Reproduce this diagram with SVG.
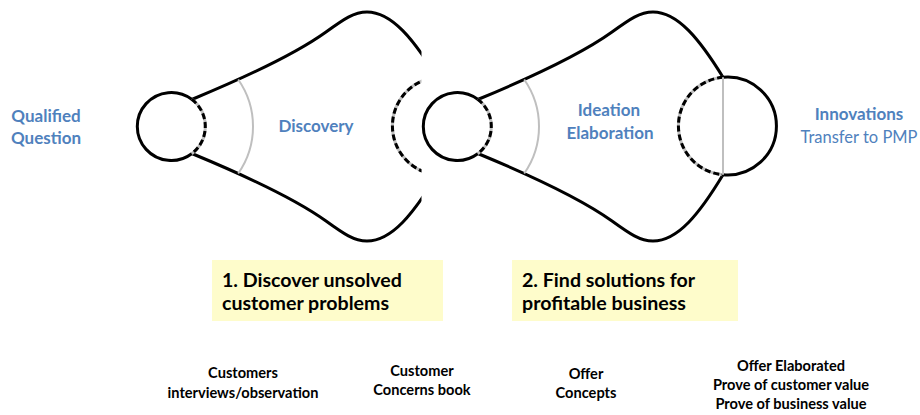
<svg xmlns="http://www.w3.org/2000/svg" width="920" height="415" viewBox="0 0 920 415">
<style>
.ln{fill:none;stroke:#000;stroke-width:3;stroke-linecap:round}
.gl{fill:none;stroke:#bfbfbf;stroke-width:2}
.dg{fill:none;stroke:#bfbfbf;stroke-width:3}
.dk{fill:none;stroke:#000;stroke-width:3;stroke-dasharray:6 3}
.bl{font-family:Lato,"Liberation Sans",sans-serif;fill:#4f81bd;font-weight:bold;font-size:17px}
.blr{font-family:Lato,"Liberation Sans",sans-serif;fill:#4f81bd;font-size:16.5px}
.bx{fill:#fefccb}
.bt{font-family:Lato,"Liberation Sans",sans-serif;font-weight:bold;font-size:19.6px;fill:#000}
.st{font-family:Lato,"Liberation Sans",sans-serif;font-weight:bold;font-size:14.6px;fill:#000;text-anchor:middle}
</style>
<defs>
<clipPath id="c1"><rect x="0" y="0" width="421.5" height="415"/></clipPath>
<g id="funnel">
<path class="ln" d="M479,99 C520,82 580,55 612,32 C630,19 640,12 653,12 C678,12 700,40 723,77.2"/>
<path class="ln" d="M479,154 C520,171 580,198 612,221 C630,234 640,241 653,241 C678,241 700,213 723,174.8"/>
<path class="ln" d="M477.7,99.3 A34,34 0 1,0 477.7,153.7"/>
<path class="dg" d="M477.7,99.3 A34,34 0 0,1 477.7,153.7"/>
<path class="dk" d="M477.7,99.3 A34,34 0 0,1 477.7,153.7"/>
<path class="gl" d="M524.2,79.5 A82,82 0 0,1 524.2,173.5"/>
<path class="dg" d="M723,77.2 A49,49 0 0,0 723,174.8"/>
<path class="dk" d="M723,77.2 A49,49 0 0,0 723,174.8"/>
<path class="ln" d="M723,77.2 A49,49 0 1,1 723,174.8"/>
<line class="gl" x1="723" y1="77.2" x2="723" y2="174.8"/>
</g>
</defs>
<rect width="920" height="415" fill="#fff"/>
<g id="funnel1" clip-path="url(#c1)">
<use href="#funnel" transform="translate(-286,0)"/>
</g>
<g id="funnel2">
<use href="#funnel"/>
</g>
<g id="connectors"/>
<g id="qualified">
<text class="bl" x="46" y="122" text-anchor="middle">Qualified</text>
<text class="bl" x="46" y="144" text-anchor="middle">Question</text>
</g>
<g id="discovery">
<text class="bl" x="316" y="132" text-anchor="middle">Discovery</text>
</g>
<g id="ideation">
<text class="bl" x="609" y="116" text-anchor="middle">Ideation</text>
<text class="bl" x="610" y="139" text-anchor="middle">Elaboration</text>
</g>
<g id="innovations">
<text class="bl" x="859" y="120" text-anchor="middle">Innovations</text>
<text class="blr" x="859" y="143" text-anchor="middle">Transfer to PMP</text>
</g>
<g id="box1">
<rect class="bx" x="212" y="260" width="231" height="61"/>
<text class="bt" x="222" y="287">1. Discover unsolved</text>
<text class="bt" x="222" y="310">customer problems</text>
</g>
<g id="box2">
<rect class="bx" x="512" y="260" width="226" height="61"/>
<text class="bt" x="522" y="287">2. Find solutions for</text>
<text class="bt" x="522" y="310">profitable business</text>
</g>
<g id="out1">
<text class="st" x="243" y="378">Customers</text>
<text class="st" x="243" y="398">interviews/observation</text>
</g>
<g id="out2">
<text class="st" x="422" y="376">Customer</text>
<text class="st" x="422" y="395">Concerns book</text>
</g>
<g id="out3">
<text class="st" x="586" y="379">Offer</text>
<text class="st" x="586" y="398">Concepts</text>
</g>
<g id="out4">
<text class="st" x="791" y="371">Offer Elaborated</text>
<text class="st" x="791" y="390">Prove of customer value</text>
<text class="st" x="791" y="409">Prove of business value</text>
</g>
</svg>
